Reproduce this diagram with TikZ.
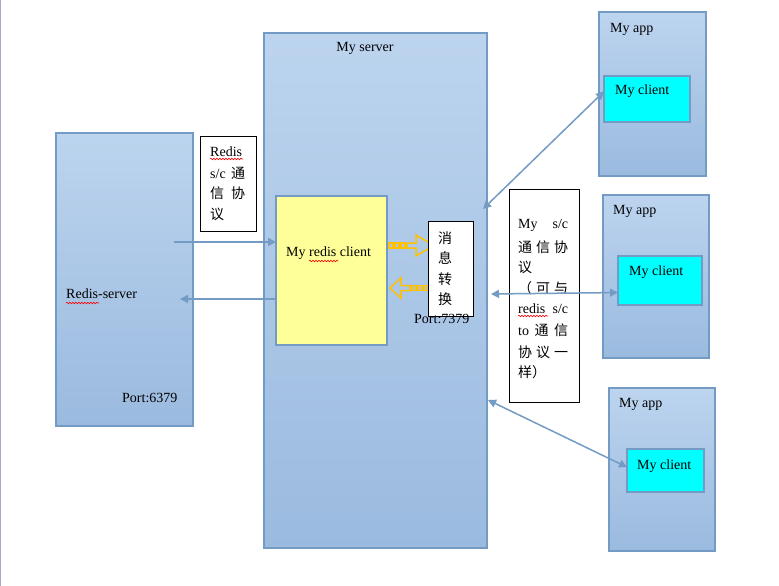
\documentclass[tikz,border=0pt]{standalone}
\usepackage{fontspec}
\setmainfont{Liberation Serif}
\newfontfamily\cjk{Noto Sans CJK SC}
\usetikzlibrary{arrows.meta,decorations.pathmorphing}

\definecolor{boxtop}{RGB}{188,212,238}
\definecolor{boxbottom}{RGB}{154,186,223}
\definecolor{boxline}{RGB}{116,155,196}
\definecolor{clientfill}{RGB}{0,255,255}
\definecolor{redisfill}{RGB}{255,255,153}
\definecolor{arrowyellow}{RGB}{255,192,0}
\definecolor{edgegray}{RGB}{165,172,190}

\tikzset{
    bluebox/.style = {draw=boxline, line width=2pt, top color=boxtop, bottom color=boxbottom, anchor=north west, inner sep=0pt, outer sep=0pt},
    clientbox/.style = {draw=boxline, line width=2pt, fill=clientfill, anchor=north west, inner sep=0pt, outer sep=0pt},
    redisbox/.style = {draw=boxline, line width=2pt, fill=redisfill, anchor=north west, inner sep=0pt, outer sep=0pt},
    notebox/.style = {draw=black, line width=0.8pt, fill=white, anchor=north west, inner sep=0pt, outer sep=0pt},
    txt/.style = {anchor=west, inner sep=0pt, font=\fontsize{14pt}{17pt}\selectfont},
    link/.style = {boxline, line width=1.5pt},
    tip/.tip = {Triangle[length=8pt, width=8pt]},
    striped/.style = {arrowyellow, line width=1.5pt, line join=miter},
    spell/.style = {red, line width=0.6pt, decorate, decoration={snake, amplitude=0.8pt, segment length=3pt}}
}

\begin{document}
\begin{tikzpicture}[x=1pt, y=-1pt]
            \useasboundingbox (0, 0) rectangle (779, 586);
            \draw[edgegray, line width=1pt] (0.5, 0) -- (0.5, 586);

            % boxes
            \node[bluebox, minimum width=137, minimum height=293] (redisserver) at (56, 133) {};
            \node[bluebox, minimum width=223, minimum height=515] (myserver) at (264, 33) {};
            \node[bluebox, minimum width=107, minimum height=164] (app1) at (599, 12) {};
            \node[bluebox, minimum width=106, minimum height=163] (app2) at (603, 195) {};
            \node[bluebox, minimum width=106, minimum height=163] (app3) at (609, 388) {};
            \node[clientbox, minimum width=86, minimum height=46] (client1) at (604, 76) {};
            \node[clientbox, minimum width=84, minimum height=49] (client2) at (618, 256) {};
            \node[clientbox, minimum width=77, minimum height=43] (client3) at (627, 449) {};
            \node[redisbox, minimum width=111, minimum height=149] (myredis) at (276, 196) {};

            % striped arrows
            \draw[striped] (389, 243) rectangle (393, 248);
            \draw[striped] (395, 243) rectangle (399, 248);
            \draw[striped] (401, 243) rectangle (405, 248);
            \draw[striped] (407, 243) -- (416, 243) -- (416, 235) -- (434, 245.5) -- (416, 256) -- (416, 248) -- (407, 248) -- cycle;
            \draw[striped] (390, 288) -- (401, 278) -- (401, 285.5) -- (410, 285.5) -- (410, 290.5) -- (401, 290.5) -- (401, 298) -- cycle;
            \draw[striped] (412, 285.5) rectangle (416, 290.5);
            \draw[striped] (418, 285.5) rectangle (422, 290.5);
            \draw[striped] (424, 285.5) rectangle (428, 290.5);

            \node[notebox, minimum width=56, minimum height=95] (redisproto) at (200, 136) {};
            \node[notebox, minimum width=45, minimum height=95] (convert) at (428, 221) {};
            \node[notebox, minimum width=70, minimum height=213] (myproto) at (509, 189) {};

            % texts
            \node[txt, anchor=center] (serverlbl) at (365, 48) {My server};
            \node[txt] (redislbl) at (66, 294) {Redis-server};
            \node[txt] (port1) at (122, 398) {Port:6379};
            \node[txt] (myredislbl) at (286, 253) {My redis client};
            \node[txt] (port2) at (414, 319) {Port:7379};
            \node[txt] (applbl1) at (610, 29) {My app};
            \node[txt] (applbl2) at (613, 211) {My app};
            \node[txt] (applbl3) at (619, 404) {My app};
            \node[txt] (clientlbl1) at (615, 91) {My client};
            \node[txt] (clientlbl2) at (629, 272) {My client};
            \node[txt] (clientlbl3) at (637, 466) {My client};

            \node[txt] (rp1) at (210, 152) {Redis};
            \node[txt] (rp2) at (210, 173) {\makebox[35pt][s]{s/c\hfill{\cjk 通}}};
            \node[txt] (rp3) at (210, 193) {\makebox[35pt][s]{\cjk 信\hfill 协}};
            \node[txt] (rp4) at (210, 214) {\cjk 议};

            \node[txt, anchor=center] (cv1) at (445, 238) {\cjk 消};
            \node[txt, anchor=center] (cv2) at (445, 258) {\cjk 息};
            \node[txt, anchor=center] (cv3) at (445, 279) {\cjk 转};
            \node[txt, anchor=center] (cv4) at (445, 299) {\cjk 换};

            \node[txt] (mp1) at (518, 225) {\makebox[50pt][s]{My\hfill s/c}};
            \node[txt] (mp2) at (518, 247) {\makebox[50pt][s]{\cjk 通\hfill 信\hfill 协}};
            \node[txt] (mp3) at (518, 267) {\cjk 议};
            \node[txt] (mp4) at (518, 288) {\makebox[50pt][s]{\cjk （\hfill 可\hfill 与}};
            \node[txt] (mp5) at (518, 309) {\makebox[50pt][s]{redis\hfill s/c}};
            \node[txt] (mp6) at (518, 330) {\makebox[50pt][s]{to\hfill{\cjk 通}\hfill{\cjk 信}}};
            \node[txt] (mp7) at (518, 352) {\makebox[50pt][s]{\cjk 协\hfill 议\hfill 一}};
            \node[txt] (mp8) at (518, 372) {\cjk 样）};

            \draw[spell] (210, 159) -- (243, 159);
            \draw[spell] (66, 303) -- (99, 303);
            \draw[spell] (309, 261) -- (338, 261);
            \draw[spell] (518, 316) -- (548, 316);

            % connectors
            \coordinate (rsout) at (174, 242);
            \coordinate (rsin) at (180, 299);
            \coordinate (sv1) at (483, 209);
            \coordinate (sv2) at (491, 294);
            \coordinate (sv3) at (488, 400);

            \draw[link, -tip] (rsout) -- (rsout -| myredis.west);
            \draw[link, -tip] (rsin -| myredis.west) -- (rsin);
            \draw[link, tip-tip] (sv1) -- (client1.170);
            \draw[link, tip-tip] (sv2) -- (client2.196);
            \draw[link, tip-tip] (sv3) -- (client3.175);

\end{tikzpicture}
\end{document}
